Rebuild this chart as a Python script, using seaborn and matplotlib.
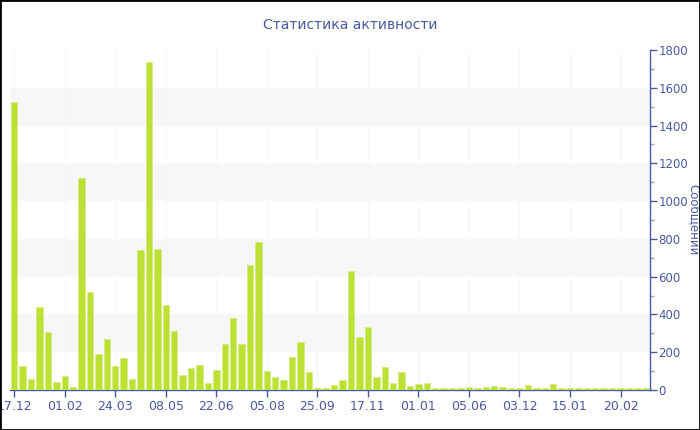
import matplotlib
matplotlib.use("Agg")
import matplotlib.pyplot as plt
import seaborn as sns
import pandas as pd
from matplotlib.patches import Rectangle
from matplotlib.ticker import MultipleLocator

# ---- data ----
messages = [1525, 128, 57, 439, 305, 45, 73, 17, 1123, 518, 191, 268, 129, 168, 57,
            743, 1737, 749, 451, 311, 82, 119, 133, 36, 105, 245, 379, 245, 664, 782,
            98, 68, 52, 174, 254, 93, 12, 12, 27, 54, 631, 279, 333, 71, 122, 38,
            93, 22, 33, 38, 12, 12, 12, 12, 17, 12, 17, 22, 17, 8, 12, 26,
            13, 12, 33, 12, 8, 8, 8, 12, 12, 12, 8, 8, 12, 12]
tick_labels = ["17.12", "01.02", "24.03", "08.05", "22.06", "05.08", "25.09",
               "17.11", "01.01", "05.06", "03.12", "15.01", "20.02"]
title = "Статистика активности"
ylabel = "Сообщений"

df = pd.DataFrame({"week": list(range(len(messages))), "count": messages})

sns.set_theme(style="white")
plt.rcParams["font.family"] = ["DejaVu Sans"]

blue = "#4a5a9e"
fig = plt.figure(figsize=(7, 4.3), dpi=100)
ax = fig.add_axes([10 / 700, 1 - 390 / 430, 640 / 700, 340 / 430])

for lo in (200, 600, 1000, 1400):
    ax.axhspan(lo, lo + 200, color="#f7f7f7", zorder=0, lw=0)

sns.barplot(data=df, x="week", y="count", color="#bde132", saturation=1,
            width=0.76, edgecolor="#d6ec86", linewidth=0.6, ax=ax, zorder=3)

n = len(messages)
ax.set_xlim(-0.5, n - 0.5)
ax.set_ylim(0, 1800)
ax.set_xticks(range(0, n, 6))
ax.set_xticklabels(tick_labels)
ax.xaxis.set_minor_locator(MultipleLocator(1))
ax.yaxis.tick_right()
ax.yaxis.set_label_position("right")
ax.set_yticks(range(0, 1801, 200))
ax.yaxis.set_minor_locator(MultipleLocator(100))
ax.grid(axis="x", which="major", color="#f5f5f5", lw=0.6, zorder=1)
ax.set_axisbelow(True)

for s in ("left", "top"):
    ax.spines[s].set_visible(False)
for s in ("right", "bottom"):
    ax.spines[s].set_color(blue)
    ax.spines[s].set_linewidth(1.0)

ax.tick_params(axis="x", which="major", length=5, width=1, color=blue,
               labelcolor=blue, labelsize=9, pad=2, bottom=True)
ax.tick_params(axis="x", which="minor", length=0)
ax.tick_params(axis="y", which="major", length=5, width=1, color=blue,
               labelcolor=blue, labelsize=8.5, pad=1, right=True, left=False)
ax.tick_params(axis="y", which="minor", length=3, width=1, color="#9aa3c8",
               right=True, left=False)

ax.set_xlabel("")
ax.set_ylabel(ylabel, color=blue, fontsize=8.5, rotation=270, va="center")
ax.yaxis.set_label_coords(1.068, 0.5)
fig.text(0.5, 1 - 25 / 430, title, ha="center", va="center", color=blue, fontsize=10)

fig.patches.append(Rectangle((0, 0), 1, 1, transform=fig.transFigure,
                             fill=False, edgecolor="black", lw=2, zorder=10))

fig.savefig("out.png", dpi=100)
